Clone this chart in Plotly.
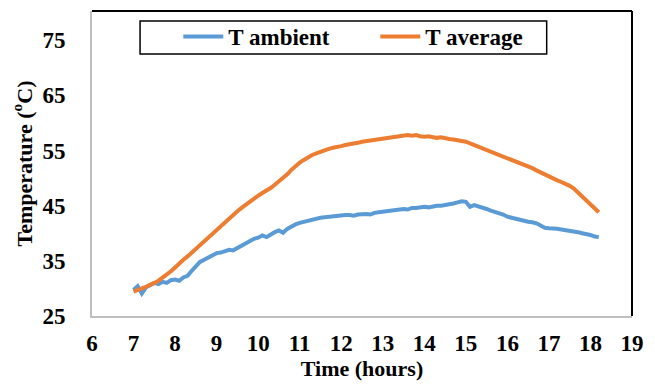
import plotly.graph_objects as go

t_ambient = [29.7, 30.4, 29.1, 30.2, 30.6, 31.0, 30.8, 31.2, 31.0, 31.5,
             31.6, 31.4, 32.0, 32.3, 33.2, 34.0, 34.8, 35.2, 35.6, 35.9,
             36.4, 36.5, 36.7, 37.0, 36.9, 37.3, 37.9, 38.3, 38.7, 39.0,
             39.2, 39.6, 39.3, 39.8, 40.2, 40.5, 40.1, 40.8, 41.3, 41.6,
             41.9, 42.1, 42.3, 42.5, 42.6, 42.8, 42.9, 43.0, 43.0, 43.2,
             43.2, 43.3, 43.3, 43.2, 43.4, 43.5, 43.5, 43.4, 43.7, 43.8,
             43.9, 44.0, 44.1, 44.2, 44.3, 44.4, 44.3, 44.6, 44.6, 44.7,
             44.8, 44.7, 44.9, 45.0, 45.0, 45.1, 45.3, 45.4, 45.6, 45.8,
             45.7, 44.8, 45.1, 44.9, 44.6, 44.4, 44.1, 43.9, 43.6, 43.4,
             43.0, 42.8, 42.6, 42.5, 42.3, 42.1, 42.0, 41.8, 41.4, 41.0,
             40.9, 40.9, 40.8, 40.7, 40.6, 40.5, 40.3, 40.2, 40.0, 39.9,
             39.7, 39.4, 39.3]

t_average = [29.4, 29.8, 30.0, 30.3, 30.6, 31.0, 31.4, 31.9, 32.5, 33.1,
             33.8, 34.6, 35.2, 35.8, 36.5, 37.1, 37.8, 38.5, 39.3, 40.0,
             40.5, 41.2, 41.9, 42.6, 43.3, 44.0, 44.6, 45.2, 45.8, 46.3,
             46.8, 47.3, 47.7, 48.2, 48.8, 49.4, 50.0, 50.7, 51.5, 52.2,
             52.8, 53.3, 53.8, 54.2, 54.5, 54.8, 55.1, 55.3, 55.5, 55.6,
             55.8, 56.0, 56.1, 56.3, 56.4, 56.6, 56.7, 56.8, 56.9, 57.0,
             57.1, 57.3, 57.4, 57.5, 57.6, 57.7, 57.8, 57.7, 57.8, 57.6,
             57.5, 57.6, 57.4, 57.3, 57.4, 57.2, 57.1, 57.0, 56.9, 56.8,
             56.6, 56.3, 56.0, 55.7, 55.4, 55.1, 54.8, 54.5, 54.2, 54.0,
             53.7, 53.4, 53.1, 52.8, 52.5, 52.2, 51.8, 51.4, 51.0, 50.6,
             50.2, 49.9, 49.6, 49.3, 49.0, 48.6, 48.1, 47.4, 46.6, 45.9,
             45.2, 44.4, 43.8]

time_h = [round(7.0 + 0.1 * i, 2) for i in range(len(t_ambient))]

x_ticks = list(range(6, 20))
y_ticks = [25, 35, 45, 55, 65, 75]

FONT = "Liberation Serif"
TICKFONT = dict(family=FONT, size=23, weight="bold", color="black")

fig = go.Figure()
fig.add_trace(go.Scatter(x=time_h, y=t_ambient, mode="lines", name="<b>T ambient</b>",
                         line=dict(color="#5B9BD5", width=4)))
fig.add_trace(go.Scatter(x=time_h, y=t_average, mode="lines", name="<b>T average</b>",
                         line=dict(color="#ED7D31", width=4)))

fig.update_layout(
    width=655, height=390,
    margin=dict(l=92, r=12, t=11, b=74),
    paper_bgcolor="white", plot_bgcolor="white",
    font=dict(family=FONT, color="black", size=23),
    showlegend=True,
    legend=dict(orientation="h", x=0.1598, y=0.987, xanchor="left", yanchor="top",
                borderwidth=0, bgcolor="rgba(0,0,0,0)",
                font=dict(family=FONT, size=23, color="black"),
                entrywidth=142, entrywidthmode="pixels", itemwidth=40,
                tracegroupgap=0),
    xaxis=dict(range=[6, 19], tickvals=x_ticks, tickfont=TICKFONT,
               showgrid=False, zeroline=False,
               showline=True, linecolor="#BFBFBF", linewidth=2, ticks="",
               ticklabelstandoff=5,
               title=dict(text="<b>Time (hours)</b>", font=dict(family=FONT, size=22),
                          standoff=6)),
    yaxis=dict(range=[25, 80.3], tickvals=y_ticks, tickfont=TICKFONT,
               showgrid=False, zeroline=False,
               showline=True, linecolor="#BFBFBF", linewidth=2, ticks="",
               ticklabelstandoff=20,
               title=dict(text="<b>Temperature (<sup>o</sup>C)</b>",
                          font=dict(family=FONT, size=22), standoff=4)),
    shapes=[
        dict(type="line", xref="paper", yref="paper", x0=0, x1=1, y0=1, y1=1,
             line=dict(color="black", width=2)),
        dict(type="line", xref="paper", yref="paper", x0=1, x1=1, y0=0, y1=1,
             line=dict(color="black", width=2)),
        dict(type="rect", xref="paper", yref="paper", x0=0.089, x1=0.842,
             y0=0.859, y1=0.967, line=dict(color="black", width=1.5),
             fillcolor="rgba(0,0,0,0)"),
    ],
)

fig.write_html("out.html")
